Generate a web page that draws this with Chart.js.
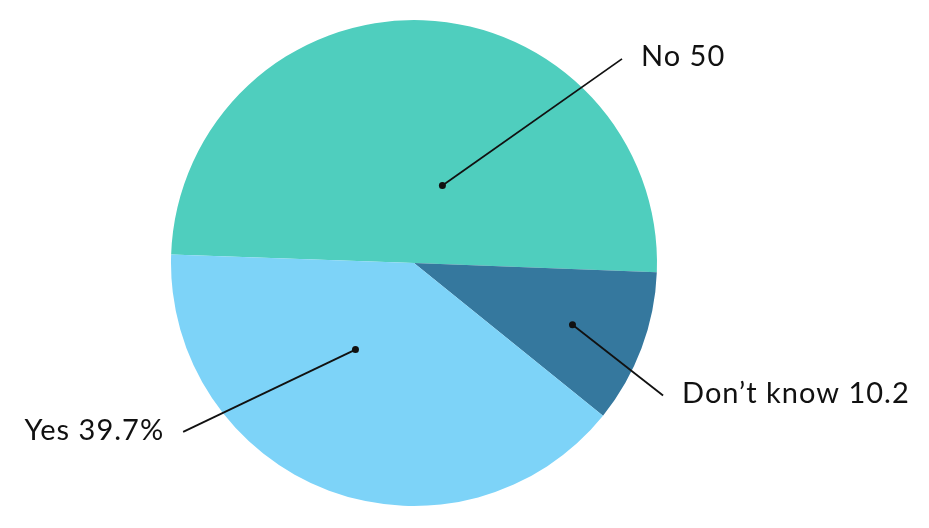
<!DOCTYPE html>
<html>
<head>
<meta charset="utf-8">
<script src="https://cdn.jsdelivr.net/npm/chart.js@4/dist/chart.umd.min.js"></script>
<style>
  html, body { margin: 0; padding: 0; background: #fff; }
  #wrap { width: 929px; height: 528px; }
</style>
</head>
<body>
<div id="wrap"><canvas id="pieChart" width="929" height="528"></canvas></div>
<script>
// Chart data
const labels = ['No', 'Don\u2019t know', 'Yes'];
const values = [50, 10.2, 39.7];
const valueTexts = ['50', '10.2', '39.7%'];
const colors = ['#4fcebe', '#35789e', '#7dd3f8'];

// Where each leader line starts inside its slice (fraction of slice angle, fraction of radius)
// and where it ends (offset from centre, in radius units)
const leaders = [
    { t: 0.60, r: 0.34, ex: 0.856, ey: -0.84, side: 'right' },
    { t: 0.52, r: 0.70, ex: 1.025, ey: 0.545, side: 'right' },
    { t: 0.595, r: 0.43, ex: -0.95, ey: 0.695, side: 'left' }
];

// Draw leader lines and labels after the slices
const leaderLabels = {
    id: 'leaderLabels',
    afterDatasetsDraw(chart) {
        const ctx = chart.ctx;
        const arcs = chart.getDatasetMeta(0).data;
        ctx.save();
        ctx.strokeStyle = '#111';
        ctx.fillStyle = '#111';
        ctx.lineWidth = 1.8;
        ctx.font = '29px Lato, "Open Sans", sans-serif';
        ctx.letterSpacing = '1px';
        ctx.textBaseline = 'middle';
        arcs.forEach(function(arc, i) {
            const p = arc.getProps(['x', 'y', 'startAngle', 'endAngle', 'outerRadius'], true);
            const L = leaders[i];
            const a = p.startAngle + (p.endAngle - p.startAngle) * L.t;
            const sx = p.x + Math.cos(a) * p.outerRadius * L.r;
            const sy = p.y + Math.sin(a) * p.outerRadius * L.r;
            const ex = p.x + L.ex * p.outerRadius;
            const ey = p.y + L.ey * p.outerRadius;
            ctx.beginPath();
            ctx.moveTo(sx, sy);
            ctx.lineTo(ex, ey);
            ctx.stroke();
            ctx.beginPath();
            ctx.arc(sx, sy, 3.5, 0, Math.PI * 2);
            ctx.fill();
            const text = labels[i] + ' ' + valueTexts[i];
            if (L.side === 'right') {
                ctx.textAlign = 'left';
                ctx.fillText(text, ex + 19, ey - 2);
            } else {
                ctx.textAlign = 'right';
                ctx.fillText(text, ex - 19, ey - 1);
            }
        });
        ctx.restore();
    }
};

new Chart(document.getElementById('pieChart').getContext('2d'), {
    type: 'pie',
    data: {
        labels: labels,
        datasets: [{
            data: values,
            backgroundColor: colors,
            borderWidth: 0
        }]
    },
    options: {
        responsive: false,
        animation: false,
        rotation: -88,
        layout: {
            padding: { top: 20, bottom: 22, left: 171, right: 272 }
        },
        plugins: {
            legend: { display: false },
            tooltip: { enabled: false }
        }
    },
    plugins: [leaderLabels]
});
</script>
</body>
</html>
